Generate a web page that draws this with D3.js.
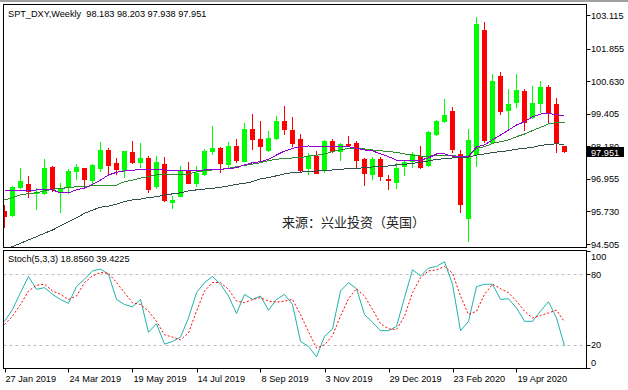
<!DOCTYPE html>
<html>
<head>
<meta charset="utf-8">
<script src="https://cdn.jsdelivr.net/npm/d3@7"></script>
<style>
  body { margin: 0; background: #fff; }
  svg { display: block; }
  text { font-family: "Liberation Sans", Arial, sans-serif; fill: #000; }
</style>
</head>
<body>
<svg id="chart" width="628" height="390"></svg>
<script>
// weekly OHLC, 27 Jan 2019 .. 31 May 2020
const priceOpen = [95.75,95.57,96.60,96.77,96.40,96.37,97.41,96.47,96.61,97.21,97.36,96.87,97.33,98.04,97.55,97.25,97.98,97.55,97.74,96.66,
  97.50,96.06,96.29,97.25,96.77,97.10,97.98,98.12,97.48,98.19,97.60,98.83,98.45,98.00,98.45,99.13,98.79,98.45,97.31,97.81,
  97.25,98.38,97.95,98.27,98.31,97.69,97.10,97.69,96.94,96.81,97.39,97.60,97.81,97.44,98.60,99.10,99.52,97.89,95.45,97.85,
  102.55,98.31,100.82,99.52,99.82,100.26,99.23,99.77,100.40,99.77,98.183];
const priceHigh = [95.97,96.70,97.36,97.07,96.60,97.70,97.45,96.79,97.31,97.51,97.38,97.50,98.35,98.13,97.75,98.02,98.38,98.30,97.81,97.81,
  97.76,96.31,97.44,97.59,97.44,98.07,98.94,98.14,98.35,98.45,99.07,99.40,99.14,98.75,99.32,99.69,99.29,98.64,97.92,98.00,
  98.42,98.45,98.29,98.57,98.38,97.73,97.79,97.79,97.10,97.54,97.66,97.98,98.19,98.75,99.17,99.95,99.67,98.04,98.83,103.05,
  102.86,100.89,100.98,100.33,100.90,100.33,100.45,100.65,100.48,99.98,98.203];
const priceLow = [95.11,95.53,96.57,96.25,95.78,96.34,96.45,95.68,96.37,96.91,96.70,96.72,97.23,97.10,97.10,97.00,97.50,97.37,96.44,96.56,
  96.10,95.81,96.26,96.75,96.64,97.08,97.85,97.19,97.31,97.56,97.58,98.04,97.60,97.98,98.43,98.60,98.16,97.22,97.10,97.12,
  97.16,97.92,97.62,98.16,97.35,96.70,96.91,96.89,96.54,96.56,97.07,97.37,97.31,97.41,98.57,99.04,97.94,95.68,94.59,97.41,
  98.31,98.29,99.36,98.82,99.63,98.77,99.20,99.42,99.02,97.94,97.938];
const priceClose = [95.52,96.65,96.87,96.45,96.47,97.36,96.56,96.56,97.25,97.41,96.91,97.47,98.04,97.45,97.30,98.00,97.55,97.75,96.54,97.59,
  96.13,96.16,97.25,96.77,97.16,98.00,98.12,97.51,98.19,97.64,98.83,98.43,98.16,98.50,99.13,98.79,98.27,97.26,97.81,97.14,
  98.38,97.95,98.25,98.20,97.64,97.14,97.69,97.01,96.86,97.37,97.60,97.89,97.37,98.73,99.13,99.36,98.04,95.97,98.42,102.78,
  98.38,100.63,99.48,99.77,100.29,99.07,99.80,100.40,99.39,98.25,97.951];

// moving averages
const maFast = [96.50,96.50,96.50,96.50,96.54,96.54,96.54,96.43,96.43,96.54,96.61,96.75,96.91,97.10,97.20,97.25,97.28,97.30,97.31,97.30,
  97.29,97.26,97.25,97.25,97.26,97.29,97.29,97.31,97.34,97.37,97.48,97.56,97.60,97.69,97.85,98.00,98.10,98.16,98.19,98.16,
  98.16,98.19,98.16,98.16,98.10,98.04,98.01,97.89,97.79,97.66,97.64,97.64,97.66,97.74,97.89,97.89,97.81,97.78,97.79,98.16,
  98.23,98.42,98.60,98.79,98.98,99.10,99.29,99.39,99.42,99.36,99.34];
const maMid = [96.16,96.25,96.35,96.40,96.43,96.50,96.56,96.60,96.62,96.66,96.66,96.70,96.72,96.72,96.72,96.85,96.91,96.98,97.04,97.10,
  97.14,97.10,97.10,97.14,97.22,97.26,97.29,97.31,97.35,97.41,97.46,97.51,97.56,97.64,97.69,97.72,97.74,97.75,97.81,97.84,
  97.89,97.98,98.04,98.10,98.10,98.08,98.04,98.01,97.98,97.95,97.89,97.85,97.81,97.81,97.83,97.83,97.83,97.79,97.81,98.10,
  98.16,98.29,98.35,98.42,98.54,98.64,98.77,98.89,99.02,99.07,99.08];
const maSlow = [94.32,94.41,94.53,94.66,94.78,94.91,95.03,95.19,95.34,95.49,95.66,95.78,95.89,95.93,96.00,96.10,96.16,96.19,96.25,96.28,
  96.35,96.39,96.43,96.50,96.54,96.57,96.60,96.64,96.69,96.75,96.79,96.85,96.95,97.00,97.07,97.14,97.19,97.21,97.22,97.25,
  97.26,97.29,97.31,97.34,97.35,97.37,97.40,97.41,97.44,97.48,97.50,97.54,97.57,97.63,97.69,97.71,97.74,97.74,97.77,97.85,
  97.89,97.94,97.98,98.01,98.07,98.10,98.14,98.21,98.25,98.27,98.25];

// Stoch(5,3,3)
const stochK = [39.9,50,64.4,78.2,67.2,68.7,62.9,58.6,55.2,69.6,75.9,83.0,84.5,80.2,58.6,54.3,52.3,58.6,30.5,37.9,
  20.4,22.7,26.4,42.8,64.4,73.0,78.2,71.6,61.5,46.6,62.9,58.6,61.5,49.4,58.6,62.9,54.3,22.7,18.4,9.5,
  27.0,33.4,65.8,73.0,67.8,45.7,39.1,31.9,31.9,35.6,60.1,83.9,78.7,85.3,86.8,90.8,71.6,31.9,39.9,69.6,
  71.6,71.6,58.6,59.2,51.4,39.9,39.9,48.6,56.6,42.8,18.856];
const stochD = [37.1,44.3,54.3,65.8,70.7,71.6,65.8,62.9,58.6,61.5,73.0,78.7,81.6,81.0,73.0,64.4,55.8,54.3,48.6,39.9,
  28.4,26.4,24.1,29.9,48.6,65.8,73.0,73.0,67.2,57.2,55.8,58.6,60.1,57.2,56.3,57.2,58.6,45.7,31.0,17.0,
  19.8,27.6,44.3,59.2,67.8,61.5,50.0,37.9,33.4,32.8,44.3,64.4,77.3,83.0,83.9,86.8,81.0,61.5,45.7,48.6,
  62.9,71.6,67.8,64.4,57.2,48.6,42.8,44.8,47.1,49.4,39.4225];

const priceTicks = [103.115, 101.855, 100.630, 99.405, 98.180, 96.955, 95.730, 94.505];
const stochTicks = [100, 80, 20, 0];
const stochLevels = [80, 20];
const dateTicks = ["27 Jan 2019","24 Mar 2019","19 May 2019","14 Jul 2019","8 Sep 2019","3 Nov 2019","29 Dec 2019","23 Feb 2020","19 Apr 2020"];
const lastPrice = 97.951;

const svg = d3.select("#chart");
const fs = "9.2px";

// window frames
const main = {l: 3.5, t: 4.5, r: 586.5, b: 247.5};
const sub = {l: 3.5, t: 250.5, r: 586.5, b: 368.5};

svg.append("rect").attr("width", 628).attr("height", 390).attr("fill", "#fff");
svg.append("rect").attr("x", 0).attr("y", 0).attr("width", 628).attr("height", 2).attr("fill", "#a0a0a0");

const weeks = d3.utcSunday.range(new Date(Date.UTC(2019, 0, 27)), new Date(Date.UTC(2020, 5, 1)));
const x = d3.scaleUtc().domain([weeks[0], weeks[weeks.length - 1]]).range([4.5, 564.5]);
const y = d3.scaleLinear().domain([94.505, 103.115]).range([244, 15]);
const sy = d3.scaleLinear().domain([0, 100]).range([368, 251]);

const defs = svg.append("defs");
defs.append("clipPath").attr("id", "clipMain").append("rect")
  .attr("x", main.l).attr("y", main.t).attr("width", main.r - main.l).attr("height", main.b - main.t);
defs.append("clipPath").attr("id", "clipSub").append("rect")
  .attr("x", sub.l).attr("y", sub.t).attr("width", sub.r - sub.l).attr("height", sub.b - sub.t);

const bars = weeks.map((d, i) => ({date: d, o: priceOpen[i], h: priceHigh[i], l: priceLow[i], c: priceClose[i]}));

// candles
const gMain = svg.append("g").attr("clip-path", "url(#clipMain)").attr("shape-rendering", "crispEdges");
const candle = gMain.selectAll("g.candle").data(bars).enter().append("g");
const col = d => d.c >= d.o ? "#00ff00" : "#ff0000";
candle.append("line")
  .attr("x1", d => x(d.date)).attr("x2", d => x(d.date))
  .attr("y1", d => y(d.h)).attr("y2", d => y(d.l))
  .attr("stroke", col);
candle.append("rect")
  .attr("x", d => x(d.date) - 2.5).attr("width", 5)
  .attr("y", d => y(Math.max(d.o, d.c)))
  .attr("height", d => Math.max(1, Math.abs(y(d.o) - y(d.c))))
  .attr("fill", col);

// moving averages
const maLine = d3.line().x((d, i) => x(weeks[i])).y(d => y(d));
[[maSlow, "#2f4f4f"], [maMid, "#2e8b2e"], [maFast, "#9400d3"]].forEach(([s, c]) => {
  gMain.append("path").attr("d", maLine(s)).attr("fill", "none").attr("stroke", c).attr("stroke-width", 1);
});

svg.append("text").attr("x", 282).attr("y", 227)
  .style("font-family", "'Noto Sans CJK SC', sans-serif").style("font-size", "13px").style("fill", "#222")
  .text("来源：兴业投资（英国）");

svg.append("text").attr("x", 8).attr("y", 17).style("font-size", fs).style("white-space", "pre")
  .text("SPT_DXY,Weekly  98.183 98.203 97.938 97.951");

// stochastic window
const gSub = svg.append("g").attr("clip-path", "url(#clipSub)");
gSub.selectAll("line.lvl").data(stochLevels).enter().append("line")
  .attr("x1", sub.l).attr("x2", sub.r)
  .attr("y1", d => Math.round(sy(d)) + 0.5).attr("y2", d => Math.round(sy(d)) + 0.5)
  .attr("stroke", "#c0c0c0").attr("stroke-dasharray", "3,3");
const stLine = d3.line().x((d, i) => x(weeks[i])).y(d => sy(d));
gSub.append("path").attr("d", stLine(stochK)).attr("fill", "none").attr("stroke", "#20b2aa").attr("stroke-width", 1);
gSub.append("path").attr("d", stLine(stochD)).attr("fill", "none").attr("stroke", "#ff0000").attr("stroke-width", 1)
  .attr("stroke-dasharray", "2,2");

svg.append("text").attr("x", 8).attr("y", 262).style("font-size", fs)
  .text("Stoch(5,3,3) 18.8560 39.4225");

// frames
[main, sub].forEach(f => {
  svg.append("rect").attr("x", f.l).attr("y", f.t).attr("width", f.r - f.l).attr("height", f.b - f.t)
    .attr("fill", "none").attr("stroke", "#000").attr("shape-rendering", "crispEdges");
});

// price axis
const fmt = d3.format(".3f");
const pAxis = svg.append("g");
pAxis.selectAll("line").data(priceTicks).enter().append("line")
  .attr("x1", main.r).attr("x2", main.r + 4)
  .attr("y1", d => Math.round(y(d)) + 0.5).attr("y2", d => Math.round(y(d)) + 0.5)
  .attr("stroke", "#000");
pAxis.selectAll("text").data(priceTicks).enter().append("text")
  .attr("x", 591).attr("y", d => y(d) + 3.5).style("font-size", fs).text(d => fmt(d));

// last price marker
const ly = y(lastPrice);
svg.append("rect").attr("x", 587).attr("y", Math.round(ly) - 5).attr("width", 37).attr("height", 10).attr("fill", "#000");
svg.append("text").attr("x", 591).attr("y", ly + 3.5).style("font-size", fs).style("fill", "#fff").text(fmt(lastPrice));

// stoch axis
const sAxis = svg.append("g");
sAxis.selectAll("line").data(stochTicks).enter().append("line")
  .attr("x1", sub.r).attr("x2", sub.r + 4)
  .attr("y1", d => Math.round(sy(d)) + 0.5).attr("y2", d => Math.round(sy(d)) + 0.5)
  .attr("stroke", "#000");
sAxis.selectAll("text").data(stochTicks).enter().append("text")
  .attr("x", 591).attr("y", d => Math.min(362, Math.max(256, sy(d))) + 3.5)
  .style("font-size", fs).text(d => d);

// time axis
const parse = d3.utcParse("%d %b %Y");
const tAxis = svg.append("g");
tAxis.selectAll("line").data(dateTicks).enter().append("line")
  .attr("x1", d => Math.round(x(parse(d))) + 0.5).attr("x2", d => Math.round(x(parse(d))) + 0.5)
  .attr("y1", sub.b).attr("y2", sub.b + 4).attr("stroke", "#000");
tAxis.selectAll("text").data(dateTicks).enter().append("text")
  .attr("x", d => x(parse(d)) + 1).attr("y", 382).style("font-size", fs).text(d => d);
</script>
</body>
</html>
